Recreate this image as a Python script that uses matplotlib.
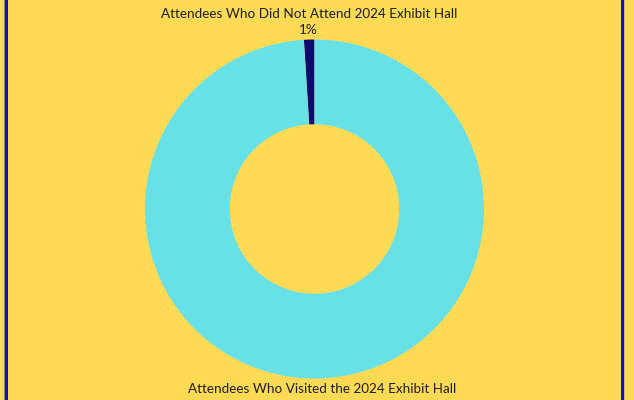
import matplotlib.pyplot as plt
from matplotlib.patches import Rectangle

# данные
labels = ['Attendees Who Did Not Attend 2024 Exhibit Hall',
          'Attendees Who Visited the 2024 Exhibit Hall']
values = [1, 99]
colors = ['#0b0b6e', '#68e1e6']

bg = '#ffdb55'
W, H = 634, 400
cx, cy, r = 314.5, 400 - 209, 169.5   # центр и радиус в пикселях

fig = plt.figure(figsize=(W / 100, H / 100), dpi=100, facecolor=bg)
ax = fig.add_axes([0, 0, 1, 1])
ax.set_facecolor(bg)
ax.axis('off')

wedges, _ = ax.pie(values, colors=colors, startangle=90, counterclock=True,
                   radius=1, wedgeprops=dict(width=0.5, edgecolor='none'))
ax.set_xlim(-cx / r, (W - cx) / r)
ax.set_ylim(-cy / r, (H - cy) / r)
ax.set_aspect('equal')

# подписи
font = dict(family=['Lato', 'DejaVu Sans'], fontsize=9.7, color='#1c1c1c',
            ha='center', va='center')
pct = values[0] / sum(values) * 100
ax.text(-5.5 / r, 195 / r, labels[0], **font)
ax.text(-6.5 / r, 179 / r, '%d%%' % round(pct), **font)
ax.text(8 / r, -180 / r, labels[1], **font)

# рамка по краям
for x0 in (5, 621):
    fig.add_artist(Rectangle((x0 / W, 0), 3 / W, 1, transform=fig.transFigure,
                             facecolor='#1212c0', edgecolor='none'))
fig.add_artist(Rectangle((4 / W, 0), 1 / W, 1, transform=fig.transFigure,
                         facecolor='#8a8a70', edgecolor='none'))
fig.add_artist(Rectangle((624 / W, 0), 1 / W, 1, transform=fig.transFigure,
                         facecolor='#c8c070', edgecolor='none'))

fig.savefig('out.png', dpi=100, facecolor=bg)
